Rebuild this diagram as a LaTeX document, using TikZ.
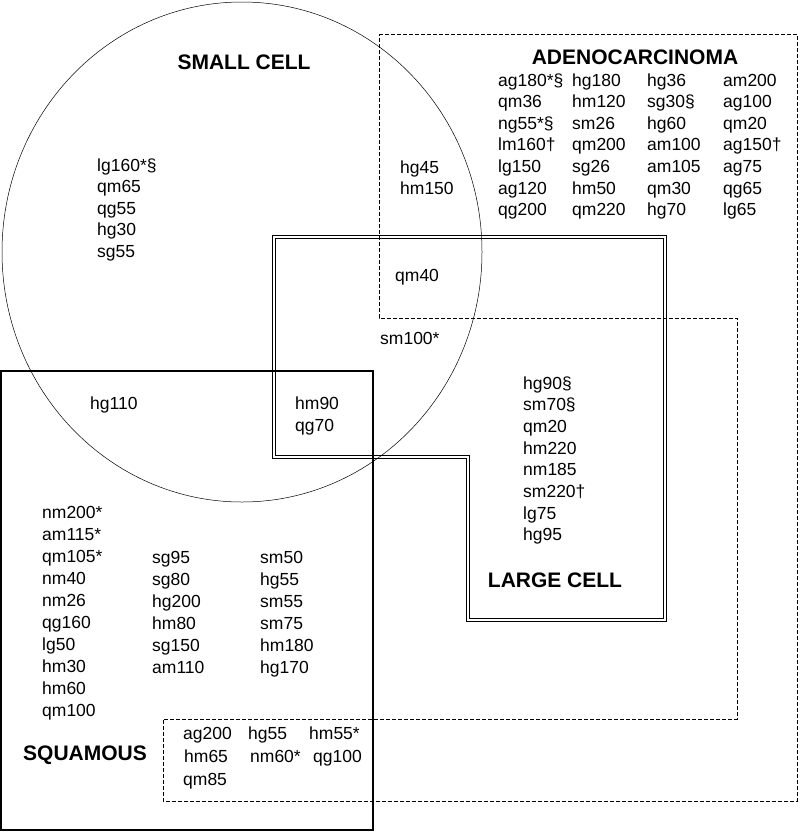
\documentclass[tikz,border=0pt]{standalone}
\usepackage{fontspec}
\setmainfont{Liberation Sans}

\begin{document}
\begin{tikzpicture}[x=1pt,y=-1pt,
	entry/.style={anchor=base west, inner sep=0pt, font=\fontsize{17.5}{21}\selectfont},
	heading/.style={inner sep=0pt, font=\fontsize{21}{25}\selectfont\bfseries},
	adeno/.style={line width=0.6pt, dash pattern=on 4pt off 2pt},
	cellline/.style={line width=1pt, line join=miter}]
	\useasboundingbox (0,0) rectangle (800,833);
	\def\rowstep{21.6}
	% large cell, two outlines
	\draw[cellline] (272.8,235.8) -- (666.2,235.8) -- (666.2,621.2) -- (466.8,621.2) -- (466.8,458.2) -- (272.8,458.2) -- cycle;
	\draw[cellline] (275.2,238.2) -- (663.8,238.2) -- (663.8,618.8) -- (469.2,618.8) -- (469.2,455.8) -- (275.2,455.8) -- cycle;
	% the other three groups
	\draw[line width=0.5pt] (242,252) ellipse [x radius=240, y radius=250];
	\draw[adeno] (379,34) -- (797,34) -- (797,801) -- (163,801) -- (163,719) -- (737,719) -- (737,318) -- (379,318) -- cycle;
	\draw[line width=1.2pt] (1,371) rectangle (373,830);
	% headings
	\node[heading] (smallcell) at (244,62) {SMALL CELL};
	\node[heading] (adenocarcinoma) at (635,57) {ADENOCARCINOMA};
	\node[heading] (largecell) at (555,580) {LARGE CELL};
	\node[heading] (squamous) at (85,755) {SQUAMOUS};
	% adenocarcinoma only
	\foreach \c/\xpos/\items in
	{
		a/498/{ag180*§,qm36,ng55*§,lm160†,lg150,ag120,qg200},
		b/572/{hg180,hm120,sm26,qm200,sg26,hm50,qm220},
		c/647/{hg36,sg30§,hg60,am100,am105,qm30,hg70},
		d/723/{am200,ag100,qm20,ag150†,ag75,qg65,lg65}}
	{
		\foreach \t [count=\r] in \items
			\node[entry] (ad\c\r) at (\xpos, {86+\rowstep*(\r-1)}) {\t};
	}
	% small cell only
	\foreach \t [count=\r] in {lg160*§,qm65,qg55,hg30,sg55}
		\node[entry] (sc\r) at (97, {171+\rowstep*(\r-1)}) {\t};
	% small cell and adenocarcinoma
	\node[entry] (scad1) at (400,173) {hg45};
	\node[entry] (scad2) at (400,194.6) {hm150};
	\node[entry] (scadlc) at (395,281) {qm40};
	\node[entry] (sclc) at (380,344) {sm100*};
	\node[entry] (scsq) at (90,409) {hg110};
	\node[entry] (scsqlc1) at (295,409) {hm90};
	\node[entry] (scsqlc2) at (295,431) {qg70};
	% large cell only
	\foreach \t [count=\r] in {hg90§,sm70§,qm20,hm220,nm185,sm220†,lg75,hg95}
		\node[entry] (lc\r) at (523, {389+21.7*(\r-1)}) {\t};
	% squamous only
	\foreach \c/\xpos/\ystart/\items in
	{
		a/42/518/{nm200*,am115*,qm105*,nm40,nm26,qg160,lg50,hm30,hm60,qm100},
		b/152/563/{sg95,sg80,hg200,hm80,sg150,am110},
		c/260/563/{sm50,hg55,sm55,sm75,hm180,hg170}}
	{
		\foreach \t [count=\r] in \items
			\node[entry] (sq\c\r) at (\xpos, {\ystart+22*(\r-1)}) {\t};
	}
	% squamous and adenocarcinoma
	\foreach \x/\y/\t/\n in
	{
		183/739/ag200/1,
		248/739/hg55/2,
		309/739/hm55*/3,
		184/762/hm65/4,
		250/762/nm60*/5,
		313/762/qg100/6,
		183/785/qm85/7
	}
	{
		\node[entry] (sqad\n) at (\x,\y) {\t};
	}
\end{tikzpicture}
\end{document}
